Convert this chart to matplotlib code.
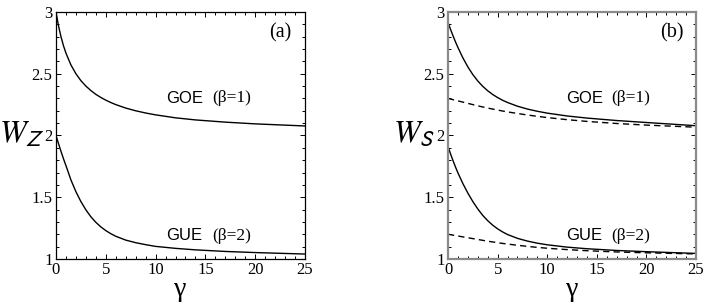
import numpy as np
import matplotlib
matplotlib.use("Agg")
import matplotlib.pyplot as plt
from matplotlib.ticker import MultipleLocator

plt.rcParams['mathtext.fontset'] = 'stix'
plt.rcParams['font.family'] = ['Liberation Serif', 'DejaVu Serif']

# values
gamma = [0, 0.25, 0.5, 0.75, 1, 1.5, 2, 2.5, 3, 3.5, 4, 4.5, 5, 5.5, 6, 7, 8,
         9, 10, 12, 14, 17, 20, 25]

# panel (a): W_Z
goe_z = [3.000, 2.889, 2.800, 2.727, 2.667, 2.571, 2.500, 2.444, 2.400, 2.364,
         2.333, 2.308, 2.286, 2.267, 2.250, 2.222, 2.200, 2.182, 2.167, 2.143,
         2.126, 2.108, 2.094, 2.077]
gue_z = [2.000, 1.935, 1.872, 1.812, 1.756, 1.640, 1.545, 1.465, 1.398, 1.342,
         1.297, 1.260, 1.230, 1.205, 1.184, 1.153, 1.132, 1.116, 1.102, 1.086,
         1.074, 1.061, 1.052, 1.040]

# panel (b): W_S, solid and dashed
goe_s = [2.915, 2.860, 2.808, 2.758, 2.712, 2.628, 2.555, 2.493, 2.441, 2.398,
         2.362, 2.332, 2.307, 2.285, 2.267, 2.237, 2.214, 2.196, 2.181, 2.158,
         2.141, 2.121, 2.105, 2.079]
goe_s_dash = [2.300, 2.295, 2.290, 2.285, 2.280, 2.270, 2.260, 2.250, 2.240,
              2.231, 2.222, 2.214, 2.206, 2.198, 2.191, 2.178, 2.166, 2.155,
              2.145, 2.128, 2.114, 2.097, 2.084, 2.067]
gue_s = [1.910, 1.852, 1.797, 1.745, 1.697, 1.610, 1.533, 1.465, 1.405, 1.353,
         1.310, 1.274, 1.244, 1.219, 1.198, 1.167, 1.145, 1.128, 1.115, 1.096,
         1.083, 1.069, 1.059, 1.045]
gue_s_dash = [1.200, 1.197, 1.193, 1.190, 1.186, 1.179, 1.172, 1.165, 1.158,
              1.151, 1.144, 1.138, 1.132, 1.126, 1.121, 1.111, 1.102, 1.094,
              1.087, 1.076, 1.067, 1.057, 1.050, 1.041]

fig = plt.figure(figsize=(7.06, 3.07), dpi=100)
ax1 = fig.add_axes([0.0793, 0.1564, 0.3527, 0.8046])
ax2 = fig.add_axes([0.6346, 0.1564, 0.3513, 0.8046])


def style(ax, spine_col, spine_w):
    ax.set_xlim(0, 25)
    ax.set_ylim(1, 3)
    ax.set_xticks([0, 5, 10, 15, 20, 25])
    ax.set_yticks([1, 1.5, 2, 2.5, 3])
    ax.set_yticklabels(['1', '1.5', '2', '2.5', '3'])
    ax.xaxis.set_minor_locator(MultipleLocator(1))
    ax.yaxis.set_minor_locator(MultipleLocator(0.1))
    ax.tick_params(which='both', direction='in', top=True, right=True,
                   labelsize=12, width=0.7, colors='black')
    ax.tick_params(which='major', length=3.5, pad=2.5)
    ax.tick_params(which='minor', length=2)
    for s in ax.spines.values():
        s.set_color(spine_col)
        s.set_linewidth(spine_w)
    ax.set_xlabel('γ', fontsize=20, labelpad=-1)


style(ax1, 'black', 0.9)
style(ax2, '#8a8a8a', 1.6)

ax1.plot(gamma, goe_z, color='black', lw=1.0)
ax1.plot(gamma, gue_z, color='black', lw=1.0)
ax1.set_ylabel(r'$W_{\mathsf{Z}}$', fontsize=23, rotation=0, ha='center', va='center')
ax1.yaxis.set_label_coords(-0.136, 0.5)

ax2.plot(gamma, goe_s, color='black', lw=1.0)
ax2.plot(gamma, goe_s_dash, color='black', lw=1.0, dashes=(4.5, 3))
ax2.plot(gamma, gue_s, color='black', lw=1.0)
ax2.plot(gamma, gue_s_dash, color='black', lw=1.0, dashes=(4.5, 3))
ax2.set_ylabel(r'$W_{\mathsf{S}}$', fontsize=23, rotation=0, ha='center', va='center')
ax2.yaxis.set_label_coords(-0.139, 0.5)

for ax, lab in [(ax1, '(a)'), (ax2, '(b)')]:
    x0 = 11.1 if ax is ax1 else 11.9
    ax.text(x0, 2.30, 'GOE', family='Liberation Sans', fontsize=12, va='center')
    ax.text(x0 + 4.6, 2.30, '(β=1)', fontsize=12.5, va='center')
    ax.text(x0, 1.19, 'GUE', family='Liberation Sans', fontsize=12, va='center')
    ax.text(x0 + 4.6, 1.19, '(β=2)', fontsize=12.5, va='center')
    ax.text(21.4, 2.83, lab, fontsize=14.5, va='center')

fig.savefig('out.png', dpi=100)
